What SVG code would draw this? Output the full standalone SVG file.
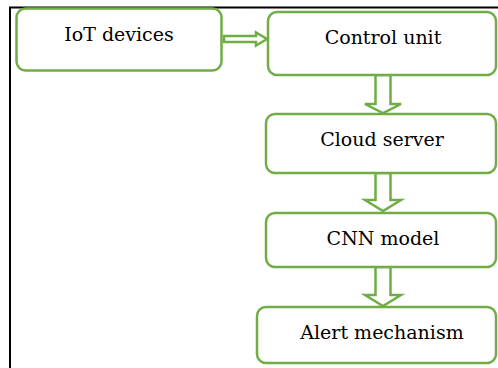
<svg xmlns="http://www.w3.org/2000/svg" width="498" height="368" viewBox="0 0 498 368">
<style>
.box{fill:#fff;stroke:#70AD47;stroke-width:2.5}
.arr{fill:#fff;stroke:#70AD47;stroke-width:2.5;stroke-linejoin:miter}
.t{font-family:"DejaVu Serif","Liberation Serif",serif;font-size:19px;fill:#000;text-anchor:middle}
</style>
<rect width="498" height="368" fill="#fff"/>
<path d="M10 368 V7.5 H498" fill="none" stroke="#000" stroke-width="2"/>
<g id="connectors">
<path class="arr" d="M224 36 H256 V32.5 L267 39 L256 45.5 V42 H224 Z"/>
<path class="arr" d="M375.5 75 V104 H365 L383 113 L401 104 H390.5 V75 Z"/>
<path class="arr" d="M375.5 173 V200 H365 L383 211 L401 200 H390.5 V173 Z"/>
<path class="arr" d="M375.5 267 V295 H365 L383 306 L401 295 H390.5 V267 Z"/>
</g>
<g id="iot"><rect class="box" x="16.5" y="8.5" width="205" height="62" rx="9"/><text class="t" x="119" y="41">IoT devices</text></g>
<g id="control"><rect class="box" x="268" y="12" width="228" height="63" rx="9"/><text class="t" x="383" y="44">Control unit</text></g>
<g id="cloud"><rect class="box" x="266" y="114" width="230" height="59" rx="9"/><text class="t" x="382" y="146">Cloud server</text></g>
<g id="cnn"><rect class="box" x="266" y="213" width="230" height="54" rx="9"/><text class="t" x="383" y="245">CNN model</text></g>
<g id="alert"><rect class="box" x="257" y="307" width="239" height="56" rx="9"/><text class="t" x="382" y="339">Alert mechanism</text></g>
</svg>
